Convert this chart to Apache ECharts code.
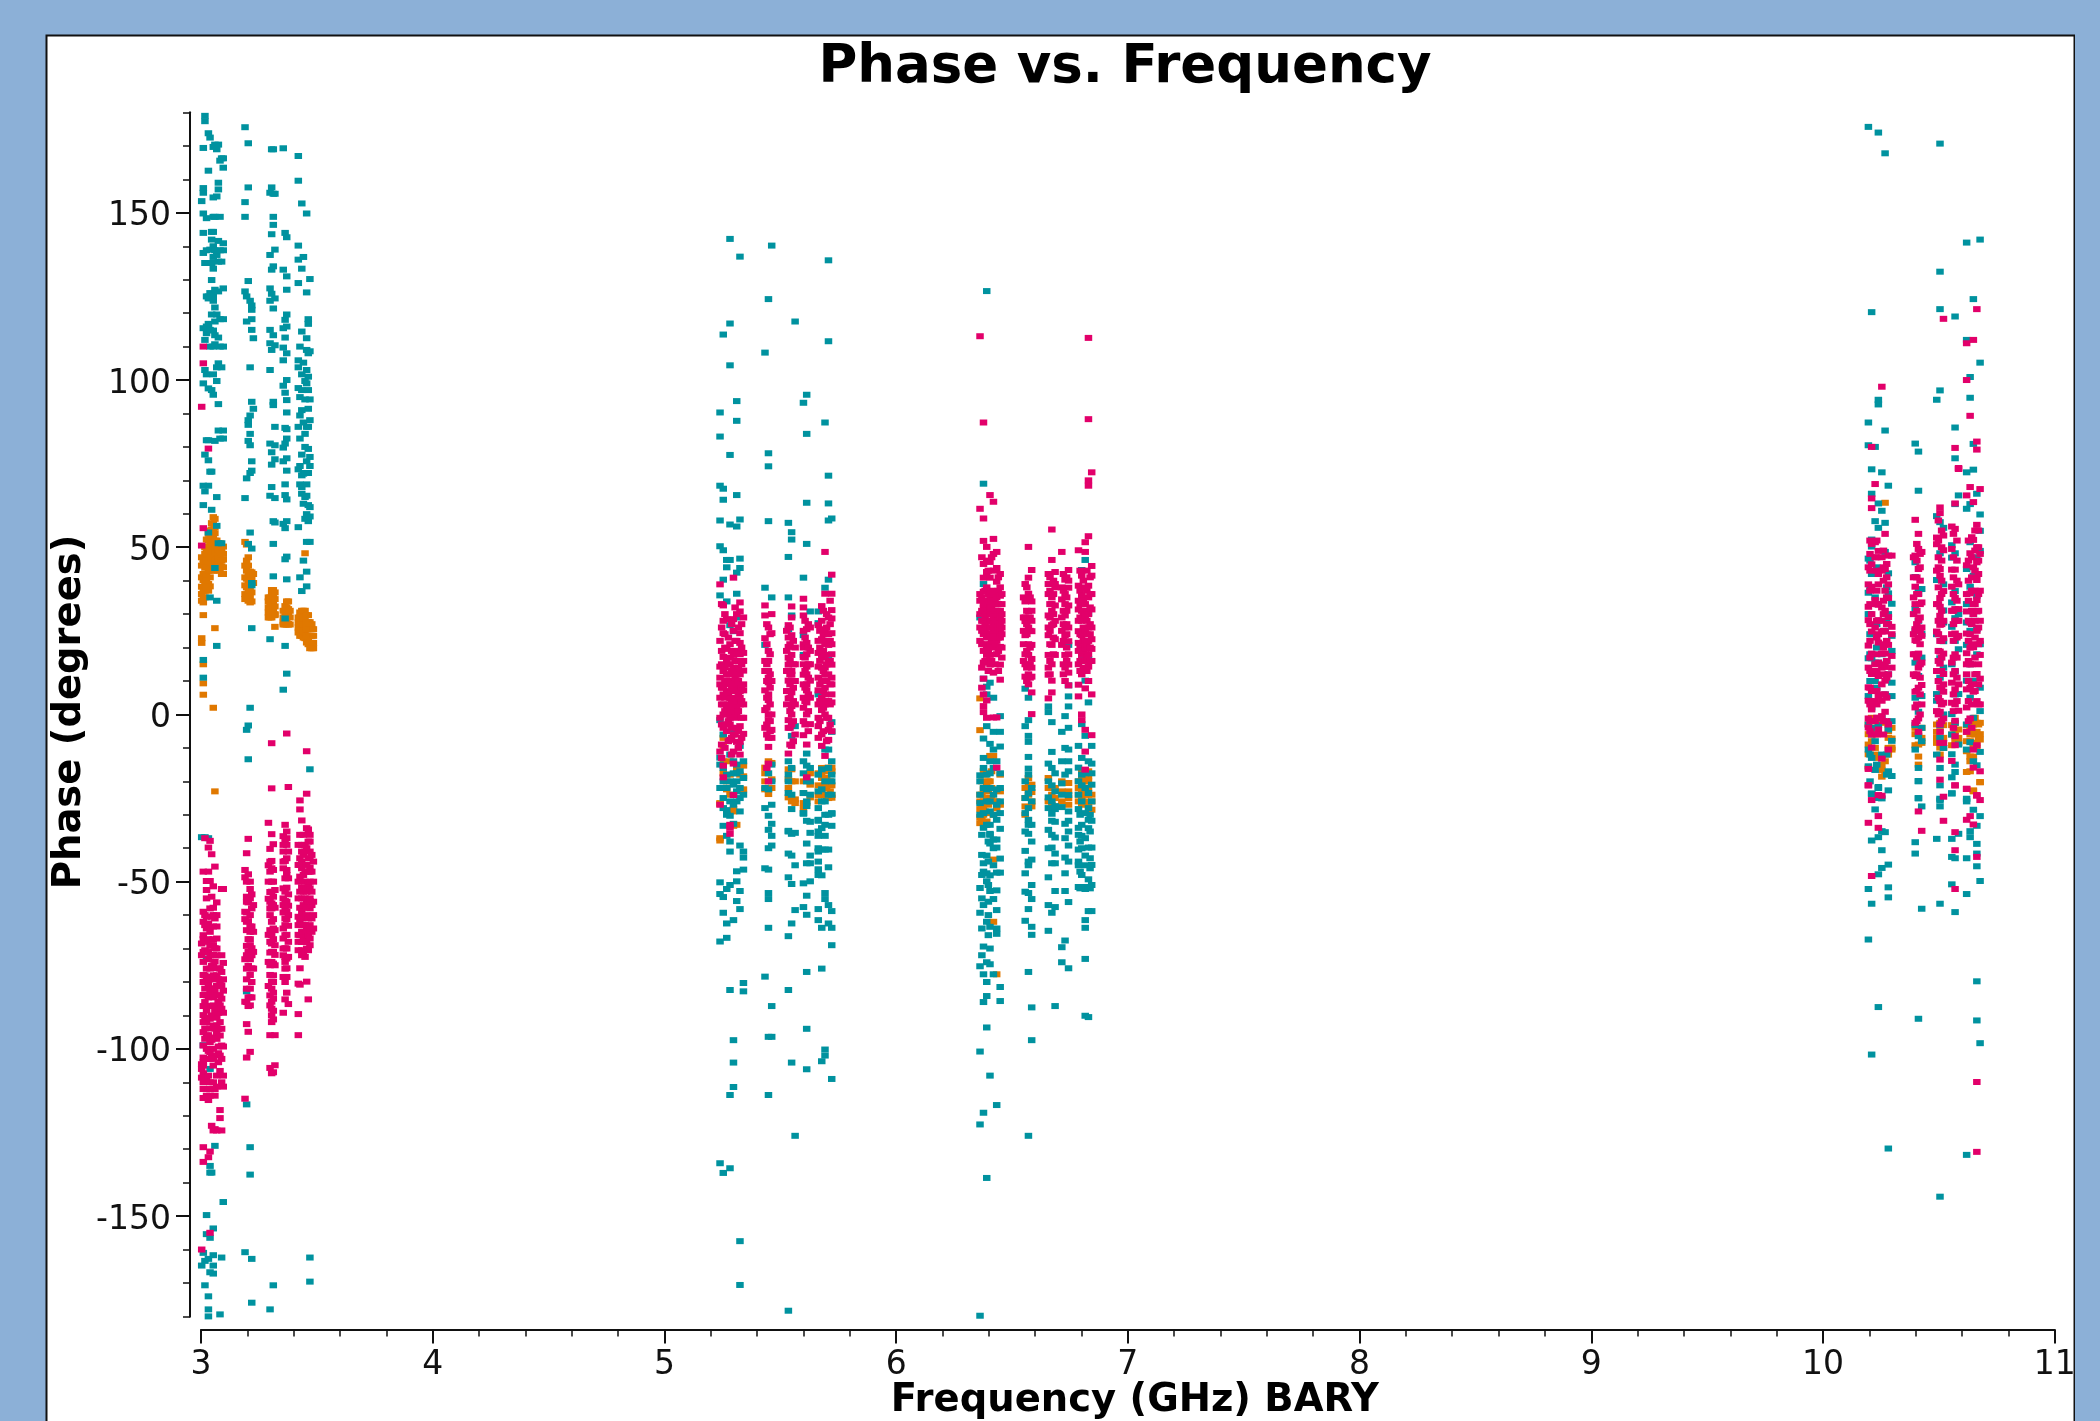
<!DOCTYPE html>
<html><head><meta charset="utf-8">
<style>html,body{margin:0;padding:0;background:#8cb0d7}#c{width:2100px;height:1421px}</style>
<script src="https://cdn.jsdelivr.net/npm/echarts@6/dist/echarts.min.js"></script>
</head><body><div id="c"></div>
<script>
const xTicks=[3,4,5,6,7,8,9,10,11];
const yMajorTicks=[-150,-100,-50,0,50,100,150];
const titleText="Phase vs. Frequency", xTitle="Frequency (GHz) BARY", yTitle="Phase (degrees)";

const tealLow=[
[3.003,[153.5,-36.7,-164.8]],
[3.01,[169.4,157.4,156,149.8,144,138,115.5,99,62.6,68.4,16.3,11,-98.9,-161]],
[3.017,[179,177.4,135,103,66.7,77.7,-163.4,-170.7,-36.7,112]],
[3.024,[148.4,138.8,101.7,82,114,-149.7,-155.4,-73,125,116]],
[3.032,[173.8,162.6,135,125,124.4,116.8,115.5,97.5,76,82,68.4,54.4,-37,-162.8,-174,-177.9,-180]],
[3.039,[172.5,126,110,115,35,-106,-156.5,-135,-137,-166.8,139,72.6]],
[3.046,[129.9,142,135,125.8,97,72.6,61.2,-137,144.3,119.6]],
[3.053,[169.7,154.6,148.8,144.3,140,136.8,133.3,125,123.7,114.8,101.7,95.6,-153.7,-161.7,-164.8,-167.2,110]],
[3.06,[170.4,148.8,138.8,121.7,117.5,110.7,113.4,81.8,43.8,-129,127]],
[3.068,[169,154.9,137.4,119.6,99.7,103.8,65,34,20.5,56.4]],
[3.075,[170.4,159,157,141.6,135.4,126.5,112.7,105,92.8,84.9,51.2]],
[3.082,[165.6,148.8,138.8,118.2,110,82.5,-179.4]],
[3.089,[166.3,135.4,103.8,51.2,-162.4]],
[3.096,[166.3,163.5,140.9,138.8,127.4,118.2,110,84.9,82.5,-145.8]]
];
const tealBand2=[
[3.19,[175.6,153.2,148.8,126.5,64.7,-160.8]],
[3.197,[125,117.5,70.6,-4.6,-82.8,-116.6]],
[3.204,[170.8,157.6,129.6,86.6,88,81.8,51,-3.3,-13.4]],
[3.212,[123.7,103.8,89.4,83.9,80.5,72.2,54.4,2,-129.4,-137.6]],
[3.219,[122.3,121,118.2,115,93.5,75.7,72.9,49.6,39.3,38.6,25.8,-162.8,-175.9]],
[3.226,[112.5,91.4]]
];
const tealBand3=[
[3.298,[156,137.4,127.4,123.7,115,111,103,81,65.4,22.5,-177.9]],
[3.305,[169,157.6,143.6,133,125.8,109,78.4,74.7,68]],
[3.312,[169,155.7,148.8,146.4,134,121.4,113.4,93.5,92.5,57.8,51,41.3,-170.7]],
[3.319,[155.7,139,124.4,110.4,86,80.5,76.3,64.7,57.4]]
];
const tealBand4=[
[3.355,[169.3,133,115.5,109.7,105.9,98.3,79.8,75.7,57,7.4]],
[3.363,[144,118,112.7,96.2,85.7,81,65.6,68.8,46.4,28.7,20.5,55.7]],
[3.37,[142.7,131,127,119.6,116,108,100,94,90.3,82.5,76.6,72.9,64.3,57.8,47.2,40.4,12.2,85.3]]
];
const tealBand5=[
[3.42,[167,159.6,140.2,136,129,105.9,103.8,97.6,86,73.3,56]],
[3.427,[110,94.9,89.4,82.5,74.3,68.8,41]],
[3.435,[152.8,133.3,114.5,101.7,97,91,68,71.5,77.7,66,36.9]],
[3.442,[136.8,105.2,87.3,72,63,46]],
[3.449,[99.7,94.2,83.9,72.2,58.5,80,65]],
[3.456,[149.8,126.2,112.5,109,103,51.6,59.9,86,75.7,68.8,65.4,42.7,38.3,99]],
[3.463,[118.2,116.8,101,97,91.4,86,79.4,72.2,62.6,57.8,108]],
[3.47,[130.2,108.6,94.2,77,74.3,62,59.2,51.6,-56.8,-16.4,-162.4,-169.6,88]]
];
const tealMidA=[
[5.24,[90.3,83.1,68.4,58,50.3,35.6,-1.7,-12.9,-53.7,-50.2,-67.9,-134.2,-15,-22]],
[5.254,[113.6,67.5,64.2,49.1,40.3,-16,-33.3,-54.6,-59.3,-137.1,-20,-25,-28,-6]],
[5.269,[46.2,44,33.8,-28.6,-36.3,-62.5,-66.8,-52.2,-22,-30,-18]],
[5.283,[142.2,116.9,104.4,77.6,56.8,46.2,26.7,-30.3,-38,-41,-51,-82.4,-113.8,-135.7,-12,-20,-26]],
[5.298,[24.9,-4.6,-17.6,-32.7,-97.4,-104.1,-111.4,-61.5,-14,-21,-24,-27]],
[5.312,[93.7,87.8,65.6,56.2,42.4,36.1,29,-17.6,-46.9,-49.9,-55.8,-15,-20,-23,-26]],
[5.326,[136.9,58.3,46.6,43.8,-9.4,-39.2,-52.8,-58.2,-157.5,-170.6,-17,-22,-25,-29]],
[5.341,[-41,-42.8,-46.4,-80.3,-82.8,-14,-19,-24]]
];
const tealMidB=[
[5.434,[108.2,37.9,20.8,-28,-78.4,-46,-22]],
[5.449,[124.2,78.1,74.2,57.8,-22.4,-17.6,-30.3,-34.5,-46.4,-53.4,-55.2,-63.8,-96.4,-113.8,-40]],
[5.463,[140.2,35,-27,-32.7,-36.3,-39.2,-87.2,-96.4,-15,-20]]
];
const tealMidC=[
[5.535,[57.3,47.1,35,25.5,-14,-23.5,-34.8,-41.6,-35,-48.7,-66.3,-82.4,-178.3,-18,-20]],
[5.549,[54.5,52.3,29.6,-6.4,-28.3,-42.2,-50.7,-62.5,-104.1,-35.7,-16,-24]],
[5.564,[117.5,-3.5,-35.4,-45.1,-58.5,-126]]
];
const tealMidD=[
[5.6,[93.2,40.9,23.7,17.8,-17.6,-23.5,-29.5,-29.7,-50.5,-57.6,-14]],
[5.614,[95.6,83.9,63.3,51,-11.7,-15.3,-26,-31.8,-27.4,-38.6,-44.5,-54.2,-59.9,-77,-94,-106.1,-20]],
[5.629,[30.8,-20,-35.4,-32.1,-42.2,-44.5,-49.9,-16,-24]]
];
const tealMidE=[
[5.664,[30.8,27.3,6,-31.8,-31.5,-36.3,-41,-46.3,-58.2,-61.5,-18,-23,-28,-35,-40,-44,-48]],
[5.679,[-16.4,-22.4,-48.1,-63.8,-76,-103.7,-26,-40.4,-34]],
[5.693,[87.3,37.9,-10.5,-26,-33,-36.3,-53.4,-55.2,-100.2,-102,-40.4,-20,-30]],
[5.708,[135.8,111.6,71.4,63.1,58,40.3,17.8,-10.5,-45.7,-57,-62.5,-40.4,-30,-24,-16]],
[5.722,[58.6,-2.3,-5.2,-20,-29.5,-29.7,-33.3,-58.8,-63.8,-69,-109,-14,-18,-24]]
];
const tealF=[
[6.362,[29,-26.5,-18.2,-51.9,-59.3,-75.3,-100.8,-122.6,-179.8,-20,-24,-30]],
[6.37,[-36,-42,-48,-55,-64,-72]],
[6.377,[69,39,10.7,-7.2,-13,-29.5,-33.9,-44.5,-57,-69.4,-77.7,-86,-119.1,-16,-22,-47]],
[6.391,[126.6,8.3,6,-3.5,-22.4,-42.2,-47.5,-49.9,-80,-84.2,-93.6,-138.6,-74.1,-62,-18,-26,-33]],
[6.398,[-38,-44,-51,-56,-60,-66]],
[6.405,[9.5,-8.8,-17.6,-26,-33,-36,-35.7,-38.6,-48.1,-52.8,-63.5,-70,-74.7,-108,-14,-22,-29]],
[6.42,[5,-5.2,-10.5,-45.1,-55.2,-77.7,-30,-37.4,-40,-24,-16]],
[6.434,[-22.4,-14,-37.4,-39.8,-47.3,-52.6,-58.5,-64,-65.6,-116.8,-27,-31.5]],
[6.449,[-0.5,-5.2,-9.6,-17.6,-29.5,-34.2,-43.1,-47.3,-81.5,-85.7,-22,-26]]
];
const tealG=[
[6.557,[7.7,-3.5,-29.5,-40.8,-47.5,-61.7,-53,-20,-25,-35]],
[6.571,[5,-1.7,-6.4,-8.2,-12.7,-16.2,-23.6,-28,-31.5,-35.7,-45.1,-53.4,-58.2,-77,-126,-18,-33,-44]],
[6.585,[-26,-33,-43.4,-51,-55.2,-63.5,-65.9,-87.6,-97.4,-22,-38]]
];
const tealH=[
[6.657,[2.4,0.7,-14.7,-24.8,-34.5,-48.7,-57,-64.7,-20,-28,-40]],
[6.672,[-2.3,-11.2,-21.2,-31.8,-29.7,-39.8,-59.3,-16,-26,-44.5,-36]],
[6.686,[-17.6,-28.3,-27.4,-32.1,-36.8,-41.6,-44.5,-52.8,-57.6,-87.2,-23]]
];
const tealI=[
[6.715,[-5.2,-14,-20.6,-27.7,-69.6,-74.1,-24]],
[6.729,[-0.5,-32.7,-42.8,-47.5,-52.8,-67.6,-18,-10,-37]],
[6.744,[20.8,8.7,5.4,2.4,-4,-10.5,-17,-24.1,-31.8,-29,-35,-39.2,-56.1,-75.9,-14,-44]]
];
const tealJ=[
[6.787,[-9.4,-15.9,-28.3,-33.9,-40.4,-45.1,-51.6,-36,-20,-24,-44]],
[6.794,[-30,-38,-47,-52]],
[6.801,[43.2,17.8,-2.9,-13,-21.2,-33,-36.3,-48,-51.6,-18,-26,-40]],
[6.816,[46.2,13.1,10.1,-6.4,-17.6,-29.5,-42.2,-45.1,-52.2,-63.8,-73.1,-90.1,-61.5,-37,-22]],
[6.83,[30.2,16.6,3.6,-23.5,-28,-31.5,-49.3,-51.6,-39.8,-90.5,-58.8,-34,-14]],
[6.837,[-30,-35,-43,-46,-52]],
[6.844,[-9.4,-14.7,-17.6,-26,-31.8,-39.8,-51,-58.8,-45,-21]]
];
const tealHighA=[
[10.196,[175.7,87.3,80.5,46.6,36.4,5.5,-15.5,-52.2,-67.3,-10.5,16.8,30,-3]],
[10.203,[46,38,30,24,18,10,4,-12,-20]],
[10.21,[120.3,73.3,66,52.3,50.2,16.8,2.1,-13,-23.6,-23.8,-37.7,-56.6,-101.7,42,24,-6]],
[10.225,[57.8,80,15.5,-16.6,-28.4,35,10,-4,-8]],
[10.232,[44,33,27,20,8,-15]],
[10.239,[174,94.1,92.7,63.1,55.8,15.5,-3.2,-22,-21.7,-36.7,-47.8,-87.5,-25,28]],
[10.254,[72.4,60.9,-25.1,-34.9,-40.6,-45.9,18,-1,-12]],
[10.268,[167.8,84.9,57.3,48.6,-35.2,25,6]],
[10.275,[38,28,16,-12,-18]],
[10.282,[68.4,42.2,36.2,-4.5,-17,-22.7,-44.9,-51.7,-54.7,-129.8,12,30]],
[10.297,[33.1,23.5,9.5,5.5,-7.9,-18.4,19,-2]]
];
const tealHighB=[
[10.398,[81,45.5,41.1,31.5,15.5,-3.2,-10.5,-38.2,-41.6,5,25]],
[10.412,[66.9,78.6,37.5,36.2,11.5,0.8,-6.5,-16,-19.9,-20,-25.1,-25,-91,28]],
[10.426,[37.5,24.1,5.5,-27.5,-58.1,17,-8,-4]]
];
const tealHighC=[
[10.491,[59.3,40.2,6.1,94.1,4.1,-37.2,24,-12]],
[10.505,[170.7,132.4,121.2,96.9,57.5,48.2,16.8,-3.2,-21.2,-16,-25.2,-25.7,-27.5,-56.6,-144.2,11,-7]],
[10.52,[55.8,38.9,31.1,27.5,21.9,14,0,-10]]
];
const tealHighD=[
[10.556,[50.6,46.9,33.5,26.2,0.1,-11.9,-18.8,-23.6,-23.6,-37.2,-42.6,-50.8,15,-6]],
[10.57,[119,85.8,76.6,62.9,48.2,36.9,28.8,12.8,-2.5,-15,-17.2,-43,-59.1,22,6]],
[10.585,[65.5,19.5,6.1,-35.7,30,-9]]
];
const tealHighE=[
[10.62,[141.1,112,72.4,61.5,43.5,27.5,20.8,10.1,-10.5,-25.2,-26,-43,-53.7,-131.7,33,-3]],
[10.635,[100.9,94.7,51.5,38.2,62.9,-8.3,-34.9,-36.7,15,25,5]],
[10.649,[124.2,73.2,80.9,41.5,10.1,-28.5,30,-1,-14]],
[10.664,[66,35.5,25.5,-15.2,-33.3,-38.7,-41.6,-45.4,-79.8,-91.5,47,18]],
[10.678,[142,105.2,59.8,54.9,48.9,21,1,-11.2,-30.4,-49.8,-98.3,8]]
];

const magentaLow=[
[3.003,[92,50.5,-68.5,-104.6,-108.6,-160,-72,-106]],
[3.01,[110,105,55.7,-47,-59,-67.2,-77.9,-83.9,-87.2,-89.9,-102.6,-107.3,-112,-114.7,-129.4,-133.8,-66,-104,-110,-62,-74,-80,-92,-95,-99,-105,-71]],
[3.017,[-37,-70.5,-93.9,-78,-82,-86,-91,-63,-97,-60]],
[3.024,[-49.8,-52.5,-60.5,-78.5,-88.6,-55,-76,-96,-100,-109,-68,-114,-64,-71,-84,-92,-103,-112]],
[3.032,[79.5,-39.8,-47,-62.5,-67.2,-73.2,-80.5,-84.6,-90.6,-95.9,-100.6,-108,-112,-115.3,-132.4,-71]],
[3.039,[-37.8,-49.8,-65,-69.2,-79.2,-87.2,-93.9,-101,-103,-110,-130.7,-155,-58,-72,-76,-83,-91,-98,-114]],
[3.046,[-41.8,-54.5,-60.5,-81.9,-97.3,-75.2,-84,-90,-102,-69,-123]],
[3.053,[-51.4,-57.8,-63.4,-71.9,-67.2,-84.6,-90.6,-96.6,-110,-124.4,-78,-105,-60,-69,-75,-82,-87,-93,-100,-103]],
[3.06,[-45.5,-61,-69.9,-73.9,-79.2,-88.6,-93.9,-114,-112,-83,-124]],
[3.068,[-56.2,-63.4,-75.9,-81.2,-90.6,-111.3,-124.4,-97,-70,-60,-67,-72,-78,-84,-93,-95,-108]],
[3.075,[-85.9,-101.3,-89.2,-99.3,-94,-104,-86,-79.2]],
[3.082,[-76,-80,-84,-87,-92,-96,-102,-106.6,-120.7,-118.3]],
[3.089,[-52.2,-72,-77,-81,-85,-88,-94,-99,-103,-110,-124.4]],
[3.096,[-52.2,-74.3,-79.2,-82.6,-89.2,-99.3,-108,-111.3]]
];
const magentaBand2=[
[3.19,[-46.5,-48.7,-61.2,-73.2,-85.9,-114.9,-59]],
[3.197,[-41.5,-54.5,-59.2,-64.5,-69.2,-79.2,-92.6,-102.6,-56,-50,-62,-72,-76,-82,-86]],
[3.204,[-37.2,-47.8,-56.2,-61.8,-75.2,-84.6,-87.2,-94.9,-67.2,-71]],
[3.212,[-52.2,-67.2,-73.2,-77.9,-100.9,-63.4,-84.6,-60,-50,-55,-65,-69,-82,-87]],
[3.219,[-53.8,-63.4,-69.9,-84.6,-75.9,-58,-72,-80]],
[3.226,[-57,-65,-71,-76]]
];
const magentaBand3=[
[3.291,[-32.4,-45.1,-55.1,-65.9,-81.2,-50,-74]],
[3.298,[-40.2,-47,-53.1,-64.5,-71.2,-77.9,-95.9,-105.7,-60,-68,-87,-44,-56,-58,-75,-84]],
[3.305,[-8.6,-22.1,-35.8,-43.8,-56.5,-68.5,-79.9,-85.9,-107.3,-50,-62,-74,-90,-46,-53,-58,-66,-71,-82,-88,-92]],
[3.312,[-38.8,-46.5,-54.5,-61.2,-67.2,-74.5,-83.2,-88.6,-91.2,-107,-57,-78,-50,-64,-71,-80,-85]],
[3.319,[-52.5,-57.8,-64.5,-71.9,-75,-95.9,-104.9,-69]]
];
const magentaBand4=[
[3.355,[-36.4,-41,-59.2,-78.5,-89.2,-46,-52,-64,-72,-39,-44,-55,-57,-67,-70]],
[3.363,[-33,-43.8,-55.8,-69.9,-72.5,-85.2,-49,-61,-66,-76,-38,-53,-58,-63,-74,-80]],
[3.37,[-5.7,-35,-39,-46.5,-51.8,-61.2,-65.9,-75.9,-78.5,-83.2,-43,-56,-37,-48,-59,-70,-73]],
[3.377,[-21.7,-41,-49,-53.8,-57.2,-63.2,-72.5,-86.6,-68,-60]]
];
const magentaBand5=[
[3.42,[-39,-55,-60.5,-65.9,-70.5,-80.5,-89.6,-95.9,-45,-50,-63,-68]],
[3.427,[-25.7,-28.4,-45,-43,-48.5,-57.8,-75.9,-80.8,-53,-62,-66,-36]],
[3.435,[-31.7,-51.8,-63,-70.5,-39,-46,-55,-59,-68,-72,-41,-44,-50,-58,-61,-65]],
[3.442,[-36,-42,-48,-53,-57,-63,-67,-71]],
[3.449,[-39,-55,-60.5,-65.9,-72.5,-41,-47,-50,-63,-68]],
[3.456,[-11,-23.7,-53,-57.8,-63.8,-79.9,-34,-45,-60,-70,-40,-52,-56,-65,-68]],
[3.463,[-34.4,-43,-50.5,-70.5,-85.2,-38,-47,-56,-61,-66]],
[3.47,[-41,-45.8,-55.8,-60.5,-64.5,-36,-50,-52,-69,-43,-38,-47,-55,-58,-63,-67]],
[3.478,[-42,-47,-53,-57,-61,-65]],
[3.485,[-44,-50,-56,-60,-64]]
];
const magentaMidA=[
[5.24,[38.9,14.3,9,-11.1,-27,5,22,11,-1]],
[5.247,[33,26,19,15,8,3,-3,-9,-13]],
[5.254,[32.6,24.3,17.2,3,-15.3,-18.8,28,13,8,0,6,-4]],
[5.261,[30,24,20,14,10,5,1,-3,-10]],
[5.269,[28.5,19.6,11.9,6.6,0,16,9,2,-5,12]],
[5.276,[23,15,10,6,3,-2,-8]],
[5.283,[14.9,9.6,4.8,-1,-7.6,-33,-33.9,-35.7,21,17,7,1,12,-3]],
[5.29,[27,19,13,8,4,1,-4,-7,-12]],
[5.298,[40.9,28.5,17.8,2.5,-11.1,-14.7,-24.1,25,14,10,5,7,0,-6]],
[5.305,[32,22,16,11,8,3,-1,-6]],
[5.312,[30,16,11.9,7.2,0,-8.2,-4,22,13,4,9,2]],
[5.319,[26,19,14,10,6,1,-5,-10]],
[5.326,[33.5,30.8,24.3,21.4,7,-3.5,-8.2,18,12,3,5,-12]],
[5.333,[27,20,15,8,4,-1,-7]],
[5.341,[29,18.4,13.1,7.2,3,-5.8,9,16,-1]]
];
const magentaMidB=[
[5.434,[32.6,29.6,22.8,13,7.2,1.3,16,-4]],
[5.442,[27,21,15,10,5,2,-3,-6,-16]],
[5.449,[19,16,9.6,4.3,-1.7,-9.7,-14.7,-20,26,13,6,-7,11,0]],
[5.456,[24,18,12,8,3,-2,-5]],
[5.463,[24.3,0,-4.6,-7,30,10]]
];
const magentaMidC=[
[5.528,[25,19,13,7,3]],
[5.535,[26.7,20.2,14.9,10.1,4.8,-4,-1.7,-11.7,17,7,23]],
[5.542,[26,21,16,12,9,5,1,-4,-9]],
[5.549,[32.3,23.7,17.8,11.9,6.6,2.5,-9.4,29,13,0,-3]],
[5.556,[22,15,8,4,-2,-8]],
[5.564,[20,10,3,15,-6]]
];
const magentaMidD=[
[5.6,[34.6,32,29.6,17.2,11.9,-6.2,25,5,-2,21,20,15,9,2]],
[5.607,[28,23,17,13,8,4,-3]],
[5.614,[25.5,21.4,14.3,7.2,3.6,0,-9,-18.8,9,18,12]],
[5.621,[27,20,15,11,6,1,-5]],
[5.629,[19,10.1,-2.9,26,5,15]]
];
const magentaMidE=[
[5.664,[26.7,18.4,14.3,7.2,-3.5,-7,3,11,22,-1]],
[5.671,[25,20,16,9,4,-2]],
[5.679,[32.4,22.5,10.1,1.3,-9.4,17,5,14,28,-6]],
[5.686,[31,24,19,13,7,2,-5]],
[5.693,[48.6,36.1,25.5,17.8,11.9,6,0,-12.4,21,8,3,14]],
[5.7,[30,26,22,15,10,4,-1,-8]],
[5.708,[20.8,-4.6,-7.6,29,12,16,4,-1,24]],
[5.715,[34,27,22,16,9,3,-3]],
[5.722,[41.8,36.1,31.2,28.7,24.3,14.9,9,3.6,18,6,-5,11,21]]
];
const magentaF=[
[6.362,[113.1,61.5,36,30,26,34,22]],
[6.37,[35,31,28,25,21,14,8,47]],
[6.377,[87.3,58.6,51.9,45,40.9,36.7,32,28,24,15.5,10.7,2.5,0.7,33,19,6]],
[6.384,[37,34,31,29,27,25,21,16]],
[6.391,[50.1,42.6,38,34,30,26,17.8,4.2,-1,23,20,46]],
[6.398,[36,33,31,28,26,24,19,13,43]],
[6.405,[65.6,45.6,40.9,36.1,32,28,24,17.8,14.9,35,30,26,21]],
[6.412,[37,34,32,30,28,26,24,22,16,47]],
[6.42,[63.6,52.5,48,43,36,33,29,25,20,12.5,27,23,-0.9]],
[6.427,[36,34,31,28,26,24,21,15]],
[6.434,[48.6,43.8,39.7,35,31,27,22,18,-15.9,-0.9,33,25]],
[6.441,[37,33,30,28,26,23,19,13,41]],
[6.449,[42,35.5,31,27,23,20.2,14.9,10.4,29,25,38]],
[6.456,[36,33,30,28,26,24,20,17]]
];
const magentaG=[
[6.55,[35,29,25,21,16]],
[6.557,[39,33.8,27.9,23.7,11.3,18,29,15]],
[6.564,[38,34,31,27,24,19,14,10]],
[6.571,[50.1,40.9,36.1,30.8,17.8,14.3,26,21,12,9]],
[6.578,[35,29,25,20,15,11]],
[6.585,[43.2,33.8,24.9,20.8,16.6,11.3,6.6,0.1,31,28,14]]
];
const magentaH=[
[6.657,[42,39,29.6,23.7,17.8,11.9,4.8,36,26,14]],
[6.664,[41,37,33,29,25,21,16,12]],
[6.672,[55.3,46.2,35,26.7,20.8,10.1,6.6,33,31,15]],
[6.679,[40,36,30,27,23,18]],
[6.686,[42.6,39,32.6,22.5,17.8,28,38]]
];
const magentaI=[
[6.715,[48.6,34.4,20.8,29,25,38]],
[6.722,[42,37,31,27,22,15,12]],
[6.729,[40.3,29.6,23.7,17.8,36,33,26,10,14]],
[6.736,[41,35,31,27,24,20,16]],
[6.744,[43.2,37.9,32.6,26,21.9,14.9,12.5,8.7,40,18]]
];
const magentaJ=[
[6.787,[49.1,38.5,31.4,24.9,21.4,8.9,5.4,15,28,19,34]],
[6.794,[43,37,33,29,24,20,16,13]],
[6.801,[41.5,35.5,23.7,17.8,16,0,-1.7,28,31,21,12]],
[6.808,[40,34,30,26,22,19,14]],
[6.816,[51.5,48.6,29.6,19.6,7.8,-4.6,-11.1,-16.5,38,25,22,16,33]],
[6.823,[43,37,31,28,24,21,17,13]],
[6.83,[112.6,88.3,70,68.4,53.3,38.5,14.3,18,26,30,35,10,22]],
[6.837,[41,36,32,27,24,20,16]],
[6.844,[72.4,44.4,41.5,31.4,26,22.5,19.6,6,-6.2,36,16]]
];
const magentaHighA=[
[10.196,[32.2,28.2,20.6,8.1,4.1,-1.2,-3.9,-16.3,-21.2,-21.2,-32.4,38.9,14,44]],
[10.203,[52,48,43,37,33,27,22,17,13,8,3,-2,-5]],
[10.21,[64.6,80,61.7,44.9,38.2,24.8,18.2,12.1,1.5,-9.9,-25.6,-48.3,51,30,7,-6]],
[10.225,[68.9,51.5,34.2,26,15,4,47,-2]],
[10.232,[52,47,43,37,33,28,23,18,13,7,3,-1,-6]],
[10.239,[48.9,38.9,32.8,28.2,21.5,15.5,11.5,5.5,-4.5,-24.1,-33.9,-30.4,42,24,-1]],
[10.254,[98,43,32,24.8,18.2,4.1,-13.2,-24.3,-0.5,14,9,28,47]],
[10.261,[49,44,40,34,30,25,20,15,12,6,-2,-6]],
[10.268,[54,43.5,31,24.8,18.2,14.2,10.1,0.8,37,21,6]],
[10.275,[45,41,35,27,22,16,11,5,-2]],
[10.282,[47.5,38.9,34.8,29.1,20.8,-10.5,27,12,-3]],
[10.297,[47.5,26.2,17.5,24,14]]
];
const magentaHighB=[
[10.391,[47,41,35,30,24,18,12]],
[10.398,[58.2,47.5,38.2,25.5,22.2,11.5,6.8,2.1,-2.5,33,18]],
[10.405,[51,46,41,36,31,27,22,17,12,7,3,-2]],
[10.412,[54,49.5,43.5,28.2,18.2,-1.2,-5.2,-29,23,14,36,8]],
[10.419,[48,44,40,33,29,25,21,15,11,6,0]],
[10.426,[48.6,33.5,23.5,15.5,8.8,-34.8,26,3]]
];
const magentaHighC=[
[10.491,[52.9,50.9,24.8,43,33,13,1]],
[10.498,[58,52,47,44,38,33,28,24,19,16,10,5,0]],
[10.505,[61.9,60.2,43.5,41.5,34.8,32.2,29.5,26.8,18.8,15.2,8.1,0.8,-5.2,-8.5,-13.5,-19.5,22,4,-3]],
[10.512,[55,50,46,40,36,31,27,22,17,13,8,3,-2]],
[10.52,[118.3,53.5,49.1,36.9,22.8,18.2,12.1,6.8,3.5,-1.2,-8.5,-24.6,-31.8,28,9]]
];
const magentaHighD=[
[10.556,[56.2,49.5,38.2,15.5,3.5,9.5,43.3,-13.9,31,24]],
[10.563,[54,47,41,36,31,27,22,17,12,6,1,-4]],
[10.57,[79.7,63.1,55.5,43.3,34.8,31.5,24.2,13,7.5,-1.9,-6.5,-9.2,-21.2,-21.2,-35.2,-40.6,-52.2,28,18,3]],
[10.578,[52,46,40,34,28,23,17,11,4]],
[10.585,[73.7,73.4,38.9,31.5,23.5,1.1,28,9]]
];
const magentaHighE=[
[10.62,[111,100,65.5,44.6,24.2,30.8,15,7.5,2.1,-5.2,-22.3,-22.2,-31.5,18.3,36,12]],
[10.628,[52,46,40,34,28,22,16,10,4,-2]],
[10.635,[89.3,68,48.2,36.2,27.5,15,-1.2,-30.4,24,20,8]],
[10.642,[53,47,41,37,31,27,21,15,9,3,-4]],
[10.649,[112,63.5,52.2,20.1,6.8,-10.5,-15.9,-32.9,44,30,33]],
[10.656,[55,49,43,37,33,28,23,17,12,7]],
[10.664,[121.2,81.6,79.2,56.7,45.5,40.2,34.2,30.8,12.1,-9.2,-24.3,-24.1,-42.6,-109.9,-130.8,25,4,50]],
[10.671,[55,50,46,42,36,31,26,21,15,9,3]],
[10.678,[67.4,17.8,10.7,-17,-25.6,48,37,22,28,3]]
];

const orangeLow=[
[3.003,[47,44.5,41,38.2,36,34,22.8,21.4]],
[3.01,[46.6,45,42,40.2,37,35,33.5,29.7,15,9.3,5.9]],
[3.017,[50,48,45.5,44,42.2,39,37,35]],
[3.024,[52.3,50,48.4,46,44,41.6,40,38]],
[3.032,[54,52,50.2,48,46.1,44,43,39,37]],
[3.039,[55,53.4,51,49,47.3,45,43.2,41,38.3]],
[3.046,[57.2,55.3,53,51.4,49,47,45.3,43]],
[3.053,[59,57,55,53.2,51,49.4,47,45.2,43,2]],
[3.06,[58.5,56,54.2,52,50,48.3,46,44,25.8,-23]],
[3.068,[52,50.4,48,46.2,44]],
[3.075,[51,49.2,47,45.4,43]],
[3.082,[51.2,49,47.2,45,43]],
[3.089,[50,48.3,46,44.2,42]],
[3.096,[50.2,48,46.3,44,42]]
];
const orangeBand2=[
[3.19,[51.6,44.5,38.6,34.5,41,36]],
[3.197,[50.8,43,40.6,35,38,46]],
[3.204,[44.5,42,39.5,36.5,34,47]],
[3.212,[42.7,40,37,35,33.5]],
[3.219,[42.5,39.3,36.5,33.8,41]],
[3.226,[42,39.3]]
];
const orangeBand3=[
[3.291,[35,33.8,32,30.5,29]],
[3.298,[35,33.3,31.5,30,29]],
[3.305,[37.2,35.5,33.8,32,30.5,29]],
[3.312,[37.2,36.5,35,33,31,29.7]],
[3.319,[36.5,34.5,32.3,30,29.7,26.2]]
];
const orangeBand4=[
[3.355,[31,29,27.5,26.9]],
[3.363,[32.4,30.5,28.6,26.9]],
[3.37,[33.8,32,30,28,26.9]],
[3.377,[33.8,31.5,29.5,27,26.9]],
[3.384,[31,29,26.9]]
];
const orangeBand5=[
[3.42,[29,27.5,26,24.5]],
[3.427,[30.5,29,27,25.5,23.5]],
[3.435,[31,29.5,27.6,25,23.5]],
[3.442,[31,29,27,25,23]],
[3.449,[31,29.2,26.8,24.5,22.8,48.2]],
[3.456,[29.7,27.5,25.4,23.5,21.5]],
[3.463,[29.7,27.6,25.5,23,21]],
[3.47,[27.6,25.5,23.5,21.4,19.8]],
[3.478,[27,25.5,23.5,21.4,19.8]],
[3.485,[25.5,23.5,21.4,19.8]]
];
const orangeMid=[
[5.24,[-26.8,-26.5,-37,-37.7]],
[5.254,[-7,-9.4,-14,-17.6]],
[5.269,[-20,-22.4]],
[5.283,[-14,-18,-29,-24]],
[5.298,[-28.3,-29,-33,-33.3]],
[5.312,[-33,-16]],
[5.326,[-15.3,-22.4,-18]],
[5.341,[-15.3,-18.5,-22.4]],
[5.434,[-15.9,-22.4,-17.6,-20]],
[5.449,[-14,-23.8]],
[5.463,[-14.5,-19.4,-22]],
[5.535,[-19.4,-24.8,-16.4,-22]],
[5.549,[-16.4,-20,-26]],
[5.564,[-20,-25.4,-26.5]],
[5.6,[-20,-23.5,-26.5,-28]],
[5.614,[-18,-26.5]],
[5.629,[-17.6,-24.8,-21]],
[5.664,[-17.6,-21.2,-24.1,-26]],
[5.679,[-18,-22,-16,-19,-23]],
[5.693,[-21,-24.1,-17]],
[5.7,[-16,-19,-22,-25]],
[5.708,[-15.9,-25]],
[5.715,[-17,-20,-23]],
[5.722,[-15.9,-17,-21.2,-24.1,-24.9]],
[6.362,[-4.7,4.8,-24,-26,-28.3,-30.7,-32.5]],
[6.37,[-20,-24,-27,-31]],
[6.377,[-17,-22.4,-26,-30,-28]],
[6.384,[-18,-23,-29,-33]],
[6.391,[-21,-25,-32]],
[6.398,[-20,-23,-27]],
[6.405,[-12.4,-20,-29.5,-25]],
[6.412,[-17,-22,-25]],
[6.42,[-12.4,-26,-43.4,-62,-30]],
[6.434,[-26,-28,-77.7]],
[6.449,[-23,-18,-27]],
[6.557,[-22,-25,-27.5,-30]],
[6.571,[-21,-24,-19]],
[6.585,[-21,-23.2,-26,-27.5]],
[6.657,[-22,-26,-19]],
[6.672,[-27,-24]],
[6.686,[-22,-25]],
[6.715,[-23,-26,-20]],
[6.744,[-23,-25,-20.5,-27]],
[6.787,[-22,-24,-26,-20]],
[6.801,[-25,-21,-17,-19,-23,-27]],
[6.816,[-19.5,-24,-20,-26]],
[6.83,[-18.5,-22,-27,-17,-20,-24]],
[6.844,[-24,-26,-28.5]]
];
const orangeHigh=[
[10.196,[-5.9,-11.9,-15.9,-9,-3]],
[10.21,[-5.9,-2,-8,-1,-4]],
[10.225,[-4,-10,-6,-12]],
[10.239,[-2.5,-13]],
[10.254,[-2.5,-12.6,-16.6,-18.6,-15]],
[10.268,[63.3,-14,-17.5]],
[10.282,[-3.2,-7,-10,-5,-12]],
[10.297,[-7.2,-9.9,-4,-10.5]],
[10.398,[-5.9,-9.2,-4]],
[10.412,[-5.9,-12.6,-15,-9]],
[10.426,[-8.5,-4,-7]],
[10.491,[-5.2,-8.5,-3,-7]],
[10.505,[-2.5,-9.9,-5,-12]],
[10.52,[-3.2,-7,-10]],
[10.556,[-3.2,-9.2,-6]],
[10.57,[-5,-8,-2.5]],
[10.585,[-4.5,-8.5,-7]],
[10.62,[-3.2,-5.2,-8,-17.2,-11]],
[10.635,[-2.5,-6,-12.6,-17,-14,-4,-8]],
[10.649,[-5.2,-8.5,-3,-12.6,-23,-22.7,-10]],
[10.656,[-1,-6,-10]],
[10.664,[-5.2,-2.5,-8.5,-10]],
[10.671,[-3,-7]],
[10.678,[-2.5,-5.9,-7.5,-20.3,-20.2]]
];

function pts(){const out=[];for(const rows of arguments)for(const r of rows)for(const p of r[1])out.push([r[0],p]);return out;}
const orangePts=pts(orangeLow,orangeBand2,orangeBand3,orangeBand4,orangeBand5,orangeMid,orangeHigh);
const tealPts=pts(tealLow,tealBand2,tealBand3,tealBand4,tealBand5,tealMidA,tealMidB,tealMidC,tealMidD,tealMidE,tealF,tealG,tealH,tealI,tealJ,tealHighA,tealHighB,tealHighC,tealHighD,tealHighE);
const magentaPts=pts(magentaLow,magentaBand2,magentaBand3,magentaBand4,magentaBand5,magentaMidA,magentaMidB,magentaMidC,magentaMidD,magentaMidE,magentaF,magentaG,magentaH,magentaI,magentaJ,magentaHighA,magentaHighB,magentaHighC,magentaHighD,magentaHighE);

const FONT='"DejaVu Sans"', INK='#111111';
const axisLine={onZero:false,lineStyle:{color:INK,width:2}};
const mark=(name,data,color,z)=>({name,type:'scatter',data,symbol:'rect',symbolSize:[7.5,6],z,
  itemStyle:{color,opacity:1},clip:false,silent:true,animation:false});
const chart=echarts.init(document.getElementById('c'),null,{renderer:'canvas'});
chart.setOption({
  animation:false,
  backgroundColor:'#8cb0d7',
  graphic:[{type:'rect',z:-10,shape:{x:46.5,y:35.5,width:2028,height:1400},style:{fill:'#ffffff',stroke:'#111111',lineWidth:2}},
           {type:'rect',z:-9,shape:{x:2075,y:30,width:25,height:1400},style:{fill:'#8cb0d7'}}],
  title:{text:titleText,left:1120,top:37,textAlign:'center',textStyle:{fontFamily:FONT,fontWeight:'bold',fontSize:53,color:'#000'}},
  grid:{left:201,right:45.3,top:112.5,bottom:104.6,containLabel:false,outerBoundsMode:'none'},
  xAxis:{type:'value',min:3,max:11,interval:1,offset:13,position:'bottom',
    name:xTitle,nameLocation:'middle',nameGap:52,nameMoveOverlap:false,
    nameTextStyle:{fontFamily:FONT,fontWeight:'bold',fontSize:38.5,color:'#000',padding:[0,0,0,14]},
    axisLine,axisTick:{show:true,inside:false,length:14,lineStyle:{color:INK,width:2}},
    minorTick:{show:true,splitNumber:5,length:7,lineStyle:{color:INK,width:1.5}},
    axisLabel:{fontFamily:FONT,fontSize:33,color:INK,margin:20,showMinLabel:true,showMaxLabel:true},
    splitLine:{show:false},minorSplitLine:{show:false}},
  yAxis:[
   {type:'value',min:-180,max:180,offset:11,position:'left',
    name:yTitle,nameLocation:'middle',nameGap:101,nameMoveOverlap:false,
    nameTextStyle:{fontFamily:FONT,fontWeight:'bold',fontSize:38.5,color:'#000',padding:[0,0,0,5]},
    axisLine,
    axisTick:{show:true,length:14,customValues:yMajorTicks,lineStyle:{color:INK,width:2}},
    axisLabel:{fontFamily:FONT,fontSize:33,color:INK,margin:19,customValues:yMajorTicks,verticalAlign:'top',lineHeight:8},
    splitLine:{show:false}},
   {type:'value',min:-180,max:180,interval:10,offset:11,position:'left',
    axisLine,axisTick:{show:true,length:7,lineStyle:{color:INK,width:1.5}},
    axisLabel:{show:false},splitLine:{show:false}}
  ],
  series:[mark('RR',orangePts,'#e07800',2),mark('LL',tealPts,'#00929f',3),mark('RL',magentaPts,'#e2006a',4)]
});
</script></body></html>
